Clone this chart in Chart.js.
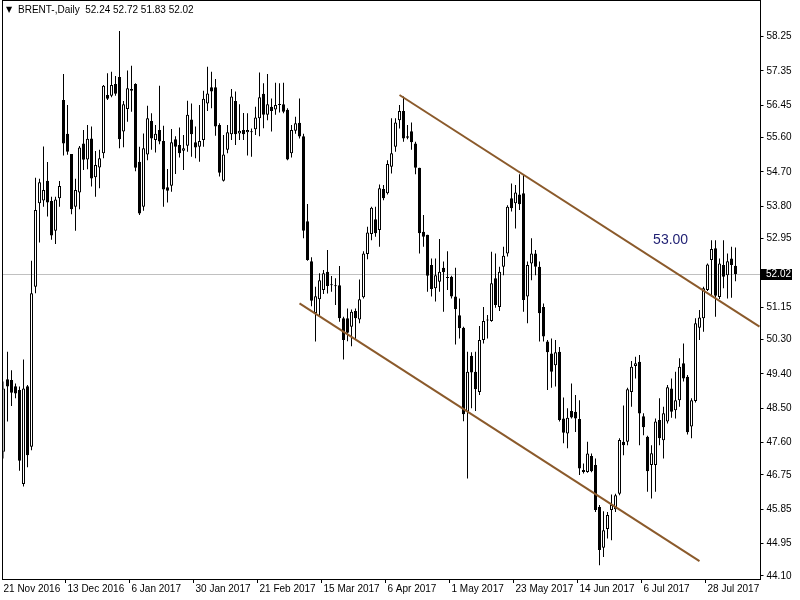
<!DOCTYPE html>
<html>
<head>
<meta charset="utf-8">
<script src="https://cdn.jsdelivr.net/npm/chart.js@4.4.1/dist/chart.umd.min.js"></script>
<style>
  html, body { margin: 0; padding: 0; background: #fff; }
  #wrap { width: 800px; height: 600px; }
</style>
</head>
<body>
<div id="wrap"><canvas id="priceChart" width="800" height="600"></canvas></div>
<script>
// BRENT daily candles (approx.)
const opens = [
  47.36, 49.26, 49.24, 49.08, 48.98, 46.51, 49.08, 47.49, 51.69, 53.88,
  53.95, 54.47, 53.94, 53.16, 54.01, 56.59, 55.70, 55.17, 53.79, 54.16,
  55.45, 55.03, 55.58, 54.56, 54.82, 55.19, 56.72, 56.70, 57.01, 57.19,
  55.76, 56.35, 56.88, 57.01, 54.97, 53.79, 55.16, 56.04, 55.54, 55.80,
  55.51, 54.30, 54.34, 55.56, 55.41, 55.26, 55.39, 56.08, 55.48, 55.36,
  55.54, 56.50, 56.92, 56.92, 55.93, 54.47, 55.28, 55.69, 56.56, 55.71,
  55.80, 55.74, 55.74, 55.82, 56.11, 56.75, 56.20, 56.41, 56.34, 56.46,
  56.48, 56.33, 55.19, 55.78, 55.99, 55.64, 53.41, 52.36, 51.00, 51.36,
  51.60, 52.08, 51.73, 51.71, 51.73, 50.86, 50.86, 50.64, 51.05, 50.83,
  51.41, 52.55, 53.07, 53.46, 53.18, 54.25, 54.14, 54.84, 55.36, 56.06,
  56.30, 55.64, 55.77, 55.45, 54.81, 53.13, 53.05, 52.26, 51.65, 51.82,
  52.19, 51.93, 51.95, 51.43, 50.94, 50.61, 48.41, 49.88, 49.46, 48.93,
  50.29, 50.80, 50.79, 51.91, 51.16, 52.21, 52.56, 54.01, 53.88, 54.11,
  54.14, 51.43, 52.30, 52.56, 52.21, 51.16, 50.25, 49.94, 49.63, 49.98,
  48.23, 47.84, 48.43, 48.41, 48.22, 46.88, 46.83, 47.25, 47.01, 45.91,
  44.84, 45.33, 45.83, 45.85, 46.26, 47.62, 47.62, 48.93, 49.61, 49.72,
  48.29, 47.75, 47.01, 47.01, 48.19, 47.66, 48.15, 49.02, 48.45, 48.71,
  49.68, 49.33, 48.02, 48.69, 50.61, 50.86, 51.60, 52.39, 52.70, 51.42,
  52.26, 51.99, 52.43, 52.24
];
const highs = [
  49.20, 49.98, 49.50, 49.15, 49.07, 49.78, 49.11, 52.37, 54.55, 54.52,
  55.37, 54.96, 54.05, 54.05, 54.46, 57.27, 56.46, 55.17, 54.52, 55.38,
  55.80, 55.93, 55.89, 55.25, 55.28, 56.98, 57.29, 57.33, 57.22, 58.40,
  56.56, 57.36, 57.49, 57.03, 55.36, 55.71, 56.44, 56.24, 55.93, 56.96,
  55.91, 54.78, 55.83, 55.64, 55.87, 55.67, 56.57, 56.50, 55.89, 56.46,
  56.83, 57.46, 57.33, 57.14, 55.98, 55.67, 55.93, 56.88, 56.81, 56.48,
  56.25, 56.24, 55.84, 56.41, 57.31, 57.03, 57.27, 56.63, 57.04, 57.03,
  57.04, 56.37, 55.93, 56.15, 56.63, 55.70, 53.86, 52.46, 51.69, 52.04,
  52.13, 52.65, 51.97, 51.91, 52.23, 50.90, 51.12, 51.09, 51.12, 51.88,
  52.62, 53.26, 53.79, 53.79, 54.37, 54.36, 55.01, 56.11, 56.11, 56.46,
  56.68, 55.93, 56.00, 55.49, 54.81, 53.57, 53.05, 52.43, 52.43, 52.94,
  52.35, 52.62, 51.98, 52.19, 51.38, 50.64, 49.98, 49.97, 49.98, 50.66,
  51.16, 50.95, 52.61, 52.56, 52.21, 52.74, 53.83, 54.40, 54.36, 54.64,
  54.62, 52.35, 52.96, 52.65, 52.35, 51.25, 50.29, 50.33, 50.29, 50.11,
  48.78, 48.50, 49.15, 48.85, 48.71, 47.05, 47.62, 47.31, 47.18, 45.96,
  45.80, 45.78, 46.24, 46.26, 47.71, 48.57, 49.04, 49.74, 49.85, 49.90,
  48.37, 47.78, 47.53, 48.23, 48.76, 48.54, 49.11, 49.28, 49.46, 49.81,
  50.20, 49.37, 48.76, 50.86, 51.08, 51.69, 52.30, 52.91, 52.91, 52.43,
  52.91, 52.56, 52.74, 52.72
];
const lows = [
  47.18, 48.15, 48.56, 48.76, 46.86, 46.45, 46.95, 47.40, 51.52, 52.85,
  53.79, 53.53, 52.92, 52.81, 53.79, 55.13, 55.15, 53.59, 53.16, 53.72,
  54.75, 54.77, 54.32, 54.05, 54.27, 55.06, 56.59, 56.66, 56.70, 55.32,
  55.35, 56.02, 56.28, 54.72, 53.57, 53.68, 55.01, 55.28, 55.21, 55.43,
  53.79, 53.90, 54.18, 54.65, 55.08, 54.75, 55.23, 55.10, 55.06, 54.97,
  55.36, 56.30, 56.37, 55.65, 54.58, 54.45, 55.19, 55.54, 55.41, 55.54,
  55.54, 55.13, 55.10, 55.67, 55.64, 55.85, 56.06, 55.76, 56.20, 56.26,
  56.24, 55.01, 55.08, 55.70, 55.58, 52.96, 52.37, 51.18, 50.25, 50.90,
  51.50, 51.51, 51.56, 51.21, 50.77, 49.78, 50.26, 50.13, 50.29, 50.73,
  51.38, 52.41, 52.91, 53.00, 52.74, 53.96, 54.11, 54.66, 55.23, 55.84,
  55.49, 55.56, 55.28, 54.64, 52.56, 52.74, 51.56, 51.43, 51.30, 51.56,
  51.03, 51.60, 51.38, 50.17, 50.33, 48.16, 46.66, 48.50, 48.43, 48.85,
  50.20, 50.33, 50.77, 51.14, 51.05, 51.99, 52.48, 53.66, 53.22, 53.70,
  51.03, 50.73, 51.86, 51.99, 50.25, 50.25, 48.98, 49.04, 49.07, 48.15,
  47.58, 47.45, 48.23, 47.88, 46.75, 46.79, 46.81, 46.82, 45.78, 44.38,
  44.60, 45.08, 45.04, 45.78, 46.22, 47.27, 47.53, 48.54, 49.28, 47.53,
  47.79, 46.31, 46.13, 46.31, 47.53, 47.18, 48.10, 48.25, 48.23, 48.54,
  49.20, 47.81, 47.71, 48.65, 50.29, 50.51, 51.58, 51.43, 50.90, 51.37,
  51.65, 51.38, 51.40, 51.83
];
const closes = [
  49.02, 49.07, 48.91, 48.89, 47.12, 49.02, 47.27, 51.52, 53.70, 54.43,
  54.23, 53.90, 53.03, 53.98, 54.33, 55.45, 55.23, 53.72, 54.23, 55.34,
  55.02, 55.57, 54.53, 54.88, 55.06, 56.96, 56.62, 56.98, 56.75, 55.56,
  56.48, 56.90, 56.83, 54.81, 53.61, 55.32, 56.11, 55.58, 55.70, 55.50,
  54.24, 54.21, 55.48, 55.36, 55.19, 55.32, 56.20, 55.69, 55.34, 55.51,
  56.62, 56.76, 56.81, 55.89, 54.68, 55.16, 55.74, 56.68, 55.69, 55.78,
  55.69, 55.80, 55.75, 56.13, 56.66, 56.20, 56.48, 56.30, 56.46, 56.48,
  56.28, 55.03, 55.80, 55.98, 55.63, 53.16, 52.39, 51.32, 51.44, 51.86,
  52.04, 51.71, 51.73, 51.70, 50.86, 50.29, 50.48, 51.03, 50.86, 51.36,
  52.56, 53.11, 53.76, 53.09, 54.27, 54.01, 54.91, 55.19, 56.00, 56.30,
  55.58, 55.60, 55.48, 54.81, 53.09, 53.00, 51.98, 51.63, 51.99, 52.08,
  52.07, 51.92, 51.43, 51.10, 50.60, 48.34, 49.46, 49.44, 49.00, 50.29,
  50.79, 50.81, 51.78, 51.21, 52.08, 52.50, 53.79, 53.75, 54.16, 53.85,
  51.34, 52.26, 52.56, 52.21, 50.99, 50.38, 49.97, 49.46, 49.97, 48.19,
  47.86, 48.25, 48.26, 48.23, 46.92, 46.83, 47.31, 46.85, 45.83, 44.78,
  45.30, 45.70, 45.96, 46.22, 47.67, 47.53, 49.00, 49.59, 49.68, 48.36,
  48.00, 46.85, 47.32, 48.15, 47.71, 48.37, 49.05, 48.41, 48.71, 49.59,
  49.28, 47.87, 48.71, 50.73, 50.88, 51.65, 52.27, 52.68, 51.45, 52.30,
  51.95, 52.36, 52.26, 52.02
];

const symbol = 'BRENT-';
const timeframe = 'Daily';

// bottom axis: one date label every 16 bars
const dateTicks = ['21 Nov 2016', '13 Dec 2016', '6 Jan 2017', '30 Jan 2017', '21 Feb 2017', '15 Mar 2017',
  '6 Apr 2017', '1 May 2017', '23 May 2017', '14 Jun 2017', '6 Jul 2017', '28 Jul 2017'];
const barsPerTick = 16;
const emptyBars = 6; // free room right of the last candle

// right axis price labels
const priceTicks = [58.25, 57.35, 56.45, 55.60, 54.70, 53.80, 52.95, 51.15, 50.30,
  49.40, 48.50, 47.60, 46.75, 45.85, 44.95, 44.10];
const priceMin = 44.02;
const priceMax = 59.16;

// channel lines: [startBar, startPrice, endBar, endPrice]
const upperChannel = [99, 56.72, 189, 50.64];
const lowerChannel = [74, 51.25, 174, 44.49];

// text label on the chart: [bar, price, text]
const levelLabel = [162.4, 52.91, '53.00'];

const axisFont = { family: 'Liberation Sans, Arial, sans-serif', size: 10 };
const channelColor = '#8b5a2b';

// build category labels
const nBars = opens.length + emptyBars;
const labels = [];
for (let i = 0; i < nBars; i++) {
  if (i % barsPerTick === 0 && dateTicks[i / barsPerTick]) labels.push(dateTicks[i / barsPerTick]);
  else labels.push('');
}

function channelData(line) {
  const d = new Array(nBars).fill(null);
  d[line[0]] = line[1];
  d[line[2]] = line[3];
  return d;
}

const bodyColors = opens.map((o, i) => closes[i] >= o ? '#ffffff' : '#000000');
const last = opens.length - 1;

// MT4 style decorations: frame, price line, header text, last price box
const mtDecor = {
  id: 'mtDecor',
  beforeDatasetsDraw(chart) {
    const { ctx, scales: { y } } = chart;
    const py = Math.round(y.getPixelForValue(closes[last])) + 0.5;
    ctx.save();
    ctx.strokeStyle = '#c0c0c0';
    ctx.lineWidth = 1;
    ctx.beginPath();
    ctx.moveTo(2, py);
    ctx.lineTo(760, py);
    ctx.stroke();
    ctx.restore();
  },
  afterDraw(chart) {
    const { ctx, scales: { x, y } } = chart;
    ctx.save();
    // frame
    ctx.strokeStyle = '#000';
    ctx.lineWidth = 1;
    ctx.strokeRect(2.5, 0.5, 758, 579);

    // header
    ctx.fillStyle = '#000';
    ctx.textBaseline = 'middle';
    ctx.font = '8px "DejaVu Sans", sans-serif';
    ctx.fillText('▼', 6, 10);
    ctx.font = '10px "Liberation Sans", Arial, sans-serif';
    ctx.fillText(symbol + ',' + timeframe + '  ' + opens[last].toFixed(2) + ' ' + highs[last].toFixed(2) + ' ' +
      lows[last].toFixed(2) + ' ' + closes[last].toFixed(2), 18, 10);

    // last price box
    const py = Math.round(y.getPixelForValue(closes[last]));
    ctx.fillStyle = '#000';
    ctx.fillRect(761, py - 5, 31, 11);
    ctx.fillStyle = '#fff';
    ctx.fillText(closes[last].toFixed(2), 766, py + 0.5);

    // level text
    ctx.fillStyle = '#1e1e72';
    ctx.font = '14px "Liberation Sans", Arial, sans-serif';
    ctx.fillText(levelLabel[2], x.getPixelForValue(levelLabel[0]), y.getPixelForValue(levelLabel[1]));
    ctx.restore();
  }
};

new Chart(document.getElementById('priceChart'), {
  type: 'bar',
  data: {
    labels: labels,
    datasets: [
      {
        type: 'line',
        data: channelData(upperChannel),
        borderColor: channelColor,
        borderWidth: 2,
        pointRadius: 0,
        spanGaps: true,
        order: 0
      },
      {
        type: 'line',
        data: channelData(lowerChannel),
        borderColor: channelColor,
        borderWidth: 2,
        pointRadius: 0,
        spanGaps: true,
        order: 0
      },
      {
        // candle bodies
        data: opens.map((o, i) => [o, closes[i]]),
        backgroundColor: bodyColors,
        borderColor: '#000',
        borderWidth: 1,
        borderSkipped: false,
        barThickness: 3,
        minBarLength: 1,
        inflateAmount: 0,
        grouped: false,
        order: 1
      },
      {
        // wicks
        data: lows.map((l, i) => [l, highs[i]]),
        backgroundColor: '#000',
        borderWidth: 0,
        barThickness: 1,
        inflateAmount: 0,
        grouped: false,
        order: 2
      }
    ]
  },
  options: {
    responsive: false,
    animation: false,
    layout: { padding: { left: 3.5, top: 2, right: 0, bottom: 0 } },
    plugins: { legend: { display: false }, tooltip: { enabled: false } },
    scales: {
      x: {
        type: 'category',
        offset: false,
        afterFit: s => { s.height = 21; s.paddingLeft = 0; s.paddingRight = 0; },
        border: { display: false },
        grid: {
          drawOnChartArea: false,
          tickLength: 4,
          color: ctx => (ctx.tick && ctx.tick.label) ? '#000' : 'rgba(0,0,0,0)'
        },
        ticks: {
          autoSkip: false,
          maxRotation: 0,
          minRotation: 0,
          align: 'start',
          padding: 0,
          color: '#000',
          font: axisFont
        }
      },
      y: {
        position: 'right',
        min: priceMin,
        max: priceMax,
        afterBuildTicks: s => { s.ticks = priceTicks.map(v => ({ value: v })); },
        afterFit: s => { s.width = 40.5; s.paddingTop = 0; s.paddingBottom = 0; },
        border: { display: false },
        grid: { drawOnChartArea: false, tickLength: 4, color: '#000' },
        ticks: {
          autoSkip: false,
          padding: 3,
          color: '#000',
          font: axisFont,
          callback: v => Number(v).toFixed(2)
        }
      }
    }
  },
  plugins: [mtDecor]
});
</script>
</body>
</html>
